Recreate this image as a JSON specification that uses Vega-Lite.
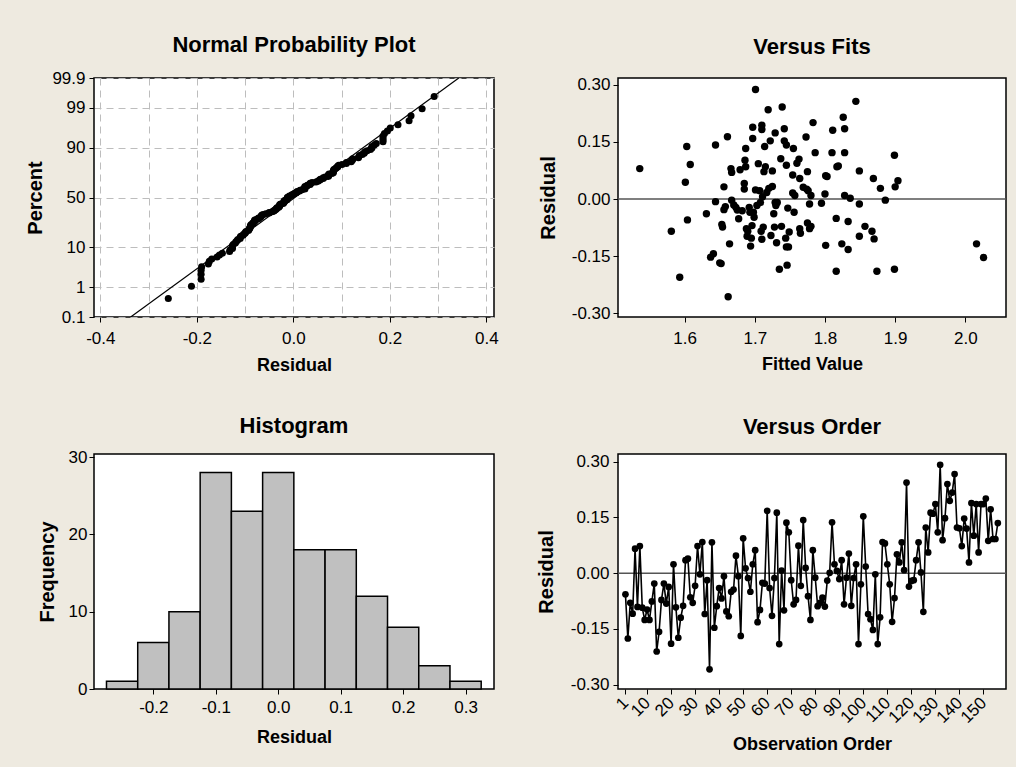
{
  "$schema": "https://vega.github.io/schema/vega-lite/v6.json",
  "background": "#EEEAE0",
  "padding": {"left": 24, "top": 33, "right": 8, "bottom": 13},
  "columns": 2,
  "spacing": {"row": 137, "column": 124},
  "bounds": "flush",
  "config": {
    "view": {"stroke": "#000000", "strokeWidth": 1.5, "fill": "#FFFFFF"},
    "axis": {"domain": false, "grid": false, "labelFont": "Liberation Sans", "labelFontSize": 17, "labelColor": "#000000", "labelFlush": false, "labelOverlap": false, "tickColor": "#000000", "tickSize": 5, "tickWidth": 1, "titleFont": "Liberation Sans", "titleFontWeight": "bold", "titleColor": "#000000", "titleFontSize": 18},
    "title": {"font": "Liberation Sans", "fontSize": 22, "fontWeight": "bold", "color": "#000000", "anchor": "middle", "baseline": "alphabetic", "frame": "group"}
  },
  "datasets": {
    "hist": [
      {"bin_start": -0.275, "bin_end": -0.225, "count": 1},
      {"bin_start": -0.225, "bin_end": -0.175, "count": 6},
      {"bin_start": -0.175, "bin_end": -0.125, "count": 10},
      {"bin_start": -0.125, "bin_end": -0.075, "count": 28},
      {"bin_start": -0.075, "bin_end": -0.025, "count": 23},
      {"bin_start": -0.025, "bin_end": 0.025, "count": 28},
      {"bin_start": 0.025, "bin_end": 0.075, "count": 18},
      {"bin_start": 0.075, "bin_end": 0.125, "count": 18},
      {"bin_start": 0.125, "bin_end": 0.175, "count": 12},
      {"bin_start": 0.175, "bin_end": 0.225, "count": 8},
      {"bin_start": 0.225, "bin_end": 0.275, "count": 3},
      {"bin_start": 0.275, "bin_end": 0.325, "count": 1}
    ],
    "nppline": [{"resid": -0.337, "z": -3.09}, {"resid": 0.343, "z": 3.09}],
    "npp": [
      {"resid": -0.259, "z": -2.613}, {"resid": -0.211, "z": -2.295}, {"resid": -0.191, "z": -2.114}, {"resid": -0.191, "z": -1.984},
      {"resid": -0.191, "z": -1.880}, {"resid": -0.190, "z": -1.794}, {"resid": -0.176, "z": -1.719}, {"resid": -0.174, "z": -1.652},
      {"resid": -0.169, "z": -1.592}, {"resid": -0.158, "z": -1.538}, {"resid": -0.153, "z": -1.488}, {"resid": -0.147, "z": -1.441},
      {"resid": -0.132, "z": -1.397}, {"resid": -0.131, "z": -1.356}, {"resid": -0.126, "z": -1.317}, {"resid": -0.126, "z": -1.279},
      {"resid": -0.126, "z": -1.244}, {"resid": -0.124, "z": -1.210}, {"resid": -0.120, "z": -1.177}, {"resid": -0.119, "z": -1.146},
      {"resid": -0.116, "z": -1.115}, {"resid": -0.115, "z": -1.086}, {"resid": -0.110, "z": -1.057}, {"resid": -0.110, "z": -1.030},
      {"resid": -0.109, "z": -1.003}, {"resid": -0.104, "z": -0.977}, {"resid": -0.103, "z": -0.951}, {"resid": -0.100, "z": -0.926},
      {"resid": -0.099, "z": -0.902}, {"resid": -0.098, "z": -0.878}, {"resid": -0.093, "z": -0.855}, {"resid": -0.092, "z": -0.832},
      {"resid": -0.091, "z": -0.810}, {"resid": -0.090, "z": -0.788}, {"resid": -0.089, "z": -0.766}, {"resid": -0.089, "z": -0.745},
      {"resid": -0.088, "z": -0.724}, {"resid": -0.088, "z": -0.703}, {"resid": -0.084, "z": -0.683}, {"resid": -0.084, "z": -0.663},
      {"resid": -0.082, "z": -0.643}, {"resid": -0.080, "z": -0.623}, {"resid": -0.080, "z": -0.604}, {"resid": -0.080, "z": -0.585},
      {"resid": -0.076, "z": -0.566}, {"resid": -0.072, "z": -0.547}, {"resid": -0.072, "z": -0.528}, {"resid": -0.068, "z": -0.510},
      {"resid": -0.067, "z": -0.492}, {"resid": -0.066, "z": -0.474}, {"resid": -0.065, "z": -0.456}, {"resid": -0.062, "z": -0.438},
      {"resid": -0.057, "z": -0.421}, {"resid": -0.050, "z": -0.403}, {"resid": -0.050, "z": -0.386}, {"resid": -0.044, "z": -0.369},
      {"resid": -0.040, "z": -0.352}, {"resid": -0.040, "z": -0.335}, {"resid": -0.037, "z": -0.318}, {"resid": -0.036, "z": -0.301},
      {"resid": -0.034, "z": -0.284}, {"resid": -0.034, "z": -0.267}, {"resid": -0.030, "z": -0.251}, {"resid": -0.030, "z": -0.234},
      {"resid": -0.028, "z": -0.218}, {"resid": -0.028, "z": -0.202}, {"resid": -0.028, "z": -0.185}, {"resid": -0.026, "z": -0.169},
      {"resid": -0.021, "z": -0.153}, {"resid": -0.020, "z": -0.137}, {"resid": -0.019, "z": -0.121}, {"resid": -0.019, "z": -0.105},
      {"resid": -0.019, "z": -0.088}, {"resid": -0.016, "z": -0.072}, {"resid": -0.013, "z": -0.056}, {"resid": -0.013, "z": -0.040},
      {"resid": -0.013, "z": -0.024}, {"resid": -0.012, "z": -0.008}, {"resid": -0.012, "z": 0.008}, {"resid": -0.008, "z": 0.024},
      {"resid": -0.008, "z": 0.040}, {"resid": -0.003, "z": 0.056}, {"resid": -0.003, "z": 0.072}, {"resid": 0.001, "z": 0.088},
      {"resid": 0.002, "z": 0.105}, {"resid": 0.006, "z": 0.121}, {"resid": 0.007, "z": 0.137}, {"resid": 0.008, "z": 0.153},
      {"resid": 0.013, "z": 0.169}, {"resid": 0.014, "z": 0.185}, {"resid": 0.018, "z": 0.202}, {"resid": 0.024, "z": 0.218},
      {"resid": 0.024, "z": 0.234}, {"resid": 0.024, "z": 0.251}, {"resid": 0.024, "z": 0.267}, {"resid": 0.024, "z": 0.284},
      {"resid": 0.029, "z": 0.301}, {"resid": 0.029, "z": 0.318}, {"resid": 0.035, "z": 0.335}, {"resid": 0.035, "z": 0.352},
      {"resid": 0.035, "z": 0.369}, {"resid": 0.039, "z": 0.386}, {"resid": 0.047, "z": 0.403}, {"resid": 0.051, "z": 0.421},
      {"resid": 0.053, "z": 0.438}, {"resid": 0.056, "z": 0.456}, {"resid": 0.056, "z": 0.474}, {"resid": 0.062, "z": 0.492},
      {"resid": 0.062, "z": 0.510}, {"resid": 0.066, "z": 0.528}, {"resid": 0.073, "z": 0.547}, {"resid": 0.073, "z": 0.566},
      {"resid": 0.073, "z": 0.585}, {"resid": 0.074, "z": 0.604}, {"resid": 0.080, "z": 0.623}, {"resid": 0.083, "z": 0.643},
      {"resid": 0.083, "z": 0.663}, {"resid": 0.083, "z": 0.683}, {"resid": 0.084, "z": 0.703}, {"resid": 0.084, "z": 0.724},
      {"resid": 0.087, "z": 0.745}, {"resid": 0.089, "z": 0.766}, {"resid": 0.092, "z": 0.788}, {"resid": 0.092, "z": 0.810},
      {"resid": 0.094, "z": 0.832}, {"resid": 0.101, "z": 0.855}, {"resid": 0.110, "z": 0.878}, {"resid": 0.110, "z": 0.902},
      {"resid": 0.120, "z": 0.926}, {"resid": 0.121, "z": 0.951}, {"resid": 0.123, "z": 0.977}, {"resid": 0.123, "z": 1.003},
      {"resid": 0.135, "z": 1.030}, {"resid": 0.136, "z": 1.057}, {"resid": 0.137, "z": 1.086}, {"resid": 0.143, "z": 1.115},
      {"resid": 0.147, "z": 1.146}, {"resid": 0.148, "z": 1.177}, {"resid": 0.153, "z": 1.210}, {"resid": 0.160, "z": 1.244},
      {"resid": 0.163, "z": 1.279}, {"resid": 0.163, "z": 1.317}, {"resid": 0.168, "z": 1.356}, {"resid": 0.172, "z": 1.397},
      {"resid": 0.186, "z": 1.441}, {"resid": 0.186, "z": 1.488}, {"resid": 0.186, "z": 1.538}, {"resid": 0.186, "z": 1.592},
      {"resid": 0.189, "z": 1.652}, {"resid": 0.195, "z": 1.719}, {"resid": 0.201, "z": 1.794}, {"resid": 0.217, "z": 1.880},
      {"resid": 0.240, "z": 1.984}, {"resid": 0.244, "z": 2.114}, {"resid": 0.267, "z": 2.295}, {"resid": 0.292, "z": 2.613}
    ],
    "fits": [
      {"fit": 1.536, "resid": 0.080}, {"fit": 1.581, "resid": -0.085}, {"fit": 1.593, "resid": -0.206}, {"fit": 1.601, "resid": 0.044},
      {"fit": 1.603, "resid": 0.138}, {"fit": 1.604, "resid": -0.055}, {"fit": 1.608, "resid": 0.091}, {"fit": 1.631, "resid": -0.039},
      {"fit": 1.637, "resid": -0.153}, {"fit": 1.641, "resid": -0.144}, {"fit": 1.644, "resid": 0.142}, {"fit": 1.644, "resid": -0.007},
      {"fit": 1.650, "resid": -0.168}, {"fit": 1.653, "resid": -0.067}, {"fit": 1.652, "resid": -0.170}, {"fit": 1.654, "resid": -0.074},
      {"fit": 1.656, "resid": -0.028}, {"fit": 1.656, "resid": 0.032}, {"fit": 1.658, "resid": -0.020}, {"fit": 1.661, "resid": 0.164},
      {"fit": 1.662, "resid": -0.257}, {"fit": 1.664, "resid": -0.118}, {"fit": 1.666, "resid": 0.080}, {"fit": 1.667, "resid": 0.070},
      {"fit": 1.667, "resid": -0.003}, {"fit": 1.670, "resid": -0.016}, {"fit": 1.673, "resid": -0.022}, {"fit": 1.675, "resid": -0.029},
      {"fit": 1.677, "resid": -0.052}, {"fit": 1.679, "resid": 0.077}, {"fit": 1.682, "resid": -0.031}, {"fit": 1.685, "resid": 0.041},
      {"fit": 1.685, "resid": 0.026}, {"fit": 1.686, "resid": 0.102}, {"fit": 1.687, "resid": 0.133}, {"fit": 1.687, "resid": 0.085},
      {"fit": 1.688, "resid": -0.078}, {"fit": 1.689, "resid": -0.098}, {"fit": 1.690, "resid": -0.085}, {"fit": 1.692, "resid": -0.022},
      {"fit": 1.693, "resid": -0.035}, {"fit": 1.694, "resid": -0.124}, {"fit": 1.695, "resid": -0.103}, {"fit": 1.696, "resid": -0.070},
      {"fit": 1.697, "resid": 0.189}, {"fit": 1.697, "resid": 0.159}, {"fit": 1.698, "resid": -0.035}, {"fit": 1.699, "resid": -0.048},
      {"fit": 1.701, "resid": 0.024}, {"fit": 1.701, "resid": 0.288}, {"fit": 1.703, "resid": -0.017}, {"fit": 1.705, "resid": 0.093},
      {"fit": 1.707, "resid": 0.022}, {"fit": 1.708, "resid": -0.009}, {"fit": 1.709, "resid": -0.085}, {"fit": 1.710, "resid": 0.194},
      {"fit": 1.710, "resid": -0.106}, {"fit": 1.710, "resid": 0.183}, {"fit": 1.711, "resid": 0.006}, {"fit": 1.712, "resid": -0.074},
      {"fit": 1.713, "resid": 0.072}, {"fit": 1.714, "resid": 0.138}, {"fit": 1.715, "resid": 0.085}, {"fit": 1.717, "resid": 0.017},
      {"fit": 1.719, "resid": 0.235}, {"fit": 1.720, "resid": 0.028}, {"fit": 1.722, "resid": 0.153}, {"fit": 1.723, "resid": -0.096},
      {"fit": 1.725, "resid": 0.074}, {"fit": 1.725, "resid": 0.033}, {"fit": 1.727, "resid": -0.039}, {"fit": 1.728, "resid": -0.074},
      {"fit": 1.729, "resid": 0.174}, {"fit": 1.729, "resid": -0.009}, {"fit": 1.730, "resid": -0.017}, {"fit": 1.731, "resid": -0.115},
      {"fit": 1.732, "resid": -0.009}, {"fit": 1.735, "resid": -0.185}, {"fit": 1.737, "resid": 0.106}, {"fit": 1.738, "resid": -0.072},
      {"fit": 1.739, "resid": 0.242}, {"fit": 1.742, "resid": 0.185}, {"fit": 1.742, "resid": 0.153}, {"fit": 1.744, "resid": -0.103},
      {"fit": 1.745, "resid": 0.142}, {"fit": 1.745, "resid": -0.126}, {"fit": 1.745, "resid": 0.089}, {"fit": 1.746, "resid": -0.174},
      {"fit": 1.747, "resid": -0.024}, {"fit": 1.748, "resid": -0.126}, {"fit": 1.749, "resid": -0.087}, {"fit": 1.754, "resid": 0.063},
      {"fit": 1.754, "resid": 0.016}, {"fit": 1.755, "resid": 0.133}, {"fit": 1.756, "resid": -0.035}, {"fit": 1.757, "resid": 0.009},
      {"fit": 1.760, "resid": 0.094}, {"fit": 1.763, "resid": 0.105}, {"fit": 1.764, "resid": 0.054}, {"fit": 1.764, "resid": -0.078},
      {"fit": 1.765, "resid": -0.090}, {"fit": 1.769, "resid": 0.031}, {"fit": 1.773, "resid": 0.163}, {"fit": 1.774, "resid": 0.026},
      {"fit": 1.775, "resid": 0.072}, {"fit": 1.775, "resid": -0.063}, {"fit": 1.776, "resid": 0.022}, {"fit": 1.778, "resid": -0.013},
      {"fit": 1.778, "resid": -0.078}, {"fit": 1.780, "resid": -0.072}, {"fit": 1.780, "resid": 0.009}, {"fit": 1.783, "resid": 0.201},
      {"fit": 1.786, "resid": 0.122}, {"fit": 1.795, "resid": -0.011}, {"fit": 1.800, "resid": 0.013}, {"fit": 1.801, "resid": -0.122},
      {"fit": 1.801, "resid": 0.061}, {"fit": 1.803, "resid": 0.059}, {"fit": 1.810, "resid": 0.122}, {"fit": 1.811, "resid": 0.181},
      {"fit": 1.816, "resid": -0.051}, {"fit": 1.816, "resid": -0.190}, {"fit": 1.817, "resid": 0.085}, {"fit": 1.819, "resid": 0.087},
      {"fit": 1.824, "resid": -0.118}, {"fit": 1.826, "resid": 0.215}, {"fit": 1.828, "resid": 0.185}, {"fit": 1.828, "resid": 0.122},
      {"fit": 1.828, "resid": 0.009}, {"fit": 1.833, "resid": -0.133}, {"fit": 1.833, "resid": -0.059}, {"fit": 1.836, "resid": 0.002},
      {"fit": 1.844, "resid": 0.257}, {"fit": 1.849, "resid": 0.074}, {"fit": 1.849, "resid": -0.013}, {"fit": 1.849, "resid": -0.098},
      {"fit": 1.857, "resid": -0.072}, {"fit": 1.867, "resid": -0.085}, {"fit": 1.869, "resid": 0.054}, {"fit": 1.870, "resid": -0.105},
      {"fit": 1.874, "resid": -0.190}, {"fit": 1.879, "resid": 0.028}, {"fit": 1.886, "resid": -0.003}, {"fit": 1.899, "resid": 0.115},
      {"fit": 1.899, "resid": -0.185}, {"fit": 1.900, "resid": 0.032}, {"fit": 1.904, "resid": 0.048}, {"fit": 2.016, "resid": -0.118},
      {"fit": 2.026, "resid": -0.154}
    ],
    "order": [
      {"obs": 1, "resid": -0.057}, {"obs": 2, "resid": -0.176}, {"obs": 3, "resid": -0.080}, {"obs": 4, "resid": -0.109},
      {"obs": 5, "resid": 0.066}, {"obs": 6, "resid": -0.091}, {"obs": 7, "resid": 0.073}, {"obs": 8, "resid": -0.093},
      {"obs": 9, "resid": -0.126}, {"obs": 10, "resid": -0.098}, {"obs": 11, "resid": -0.126}, {"obs": 12, "resid": -0.076},
      {"obs": 13, "resid": -0.028}, {"obs": 14, "resid": -0.211}, {"obs": 15, "resid": -0.158}, {"obs": 16, "resid": -0.072},
      {"obs": 17, "resid": -0.028}, {"obs": 18, "resid": -0.082}, {"obs": 19, "resid": -0.037}, {"obs": 20, "resid": -0.190},
      {"obs": 21, "resid": 0.024}, {"obs": 22, "resid": -0.092}, {"obs": 23, "resid": -0.174}, {"obs": 24, "resid": -0.120},
      {"obs": 25, "resid": -0.088}, {"obs": 26, "resid": 0.035}, {"obs": 27, "resid": 0.039}, {"obs": 28, "resid": -0.065},
      {"obs": 29, "resid": -0.080}, {"obs": 30, "resid": -0.034}, {"obs": 31, "resid": 0.073}, {"obs": 32, "resid": -0.003},
      {"obs": 33, "resid": 0.084}, {"obs": 34, "resid": -0.110}, {"obs": 35, "resid": -0.019}, {"obs": 36, "resid": -0.259},
      {"obs": 37, "resid": 0.083}, {"obs": 38, "resid": -0.147}, {"obs": 39, "resid": -0.089}, {"obs": 40, "resid": -0.040},
      {"obs": 41, "resid": -0.068}, {"obs": 42, "resid": -0.008}, {"obs": 43, "resid": -0.103}, {"obs": 44, "resid": -0.116},
      {"obs": 45, "resid": -0.050}, {"obs": 46, "resid": -0.044}, {"obs": 47, "resid": 0.047}, {"obs": 48, "resid": -0.008},
      {"obs": 49, "resid": -0.169}, {"obs": 50, "resid": 0.094}, {"obs": 51, "resid": 0.013}, {"obs": 52, "resid": -0.013},
      {"obs": 53, "resid": -0.050}, {"obs": 54, "resid": 0.024}, {"obs": 55, "resid": 0.062}, {"obs": 56, "resid": -0.132},
      {"obs": 57, "resid": -0.099}, {"obs": 58, "resid": -0.026}, {"obs": 59, "resid": -0.028}, {"obs": 60, "resid": 0.168},
      {"obs": 61, "resid": -0.040}, {"obs": 62, "resid": -0.115}, {"obs": 63, "resid": -0.013}, {"obs": 64, "resid": 0.163},
      {"obs": 65, "resid": -0.191}, {"obs": 66, "resid": 0.007}, {"obs": 67, "resid": -0.100}, {"obs": 68, "resid": 0.136},
      {"obs": 69, "resid": 0.110}, {"obs": 70, "resid": -0.019}, {"obs": 71, "resid": -0.084}, {"obs": 72, "resid": -0.072},
      {"obs": 73, "resid": 0.074}, {"obs": 74, "resid": -0.034}, {"obs": 75, "resid": 0.143}, {"obs": 76, "resid": 0.014},
      {"obs": 77, "resid": -0.062}, {"obs": 78, "resid": -0.126}, {"obs": 79, "resid": 0.062}, {"obs": 80, "resid": -0.012},
      {"obs": 81, "resid": -0.089}, {"obs": 82, "resid": -0.080}, {"obs": 83, "resid": -0.066}, {"obs": 84, "resid": -0.090},
      {"obs": 85, "resid": -0.020}, {"obs": 86, "resid": 0.001}, {"obs": 87, "resid": 0.137}, {"obs": 88, "resid": 0.024},
      {"obs": 89, "resid": 0.006}, {"obs": 90, "resid": -0.016}, {"obs": 91, "resid": 0.035}, {"obs": 92, "resid": -0.084},
      {"obs": 93, "resid": -0.012}, {"obs": 94, "resid": 0.053}, {"obs": 95, "resid": -0.088}, {"obs": 96, "resid": -0.013},
      {"obs": 97, "resid": 0.024}, {"obs": 98, "resid": -0.191}, {"obs": 99, "resid": -0.030}, {"obs": 100, "resid": 0.153},
      {"obs": 101, "resid": 0.018}, {"obs": 102, "resid": -0.110}, {"obs": 103, "resid": -0.124}, {"obs": 104, "resid": -0.153},
      {"obs": 105, "resid": -0.003}, {"obs": 106, "resid": -0.191}, {"obs": 107, "resid": -0.119}, {"obs": 108, "resid": 0.084},
      {"obs": 109, "resid": 0.080}, {"obs": 110, "resid": 0.024}, {"obs": 111, "resid": -0.030}, {"obs": 112, "resid": -0.131},
      {"obs": 113, "resid": -0.067}, {"obs": 114, "resid": 0.051}, {"obs": 115, "resid": 0.029}, {"obs": 116, "resid": 0.083},
      {"obs": 117, "resid": 0.008}, {"obs": 118, "resid": 0.244}, {"obs": 119, "resid": -0.036}, {"obs": 120, "resid": -0.021},
      {"obs": 121, "resid": -0.019}, {"obs": 122, "resid": 0.035}, {"obs": 123, "resid": 0.083}, {"obs": 124, "resid": 0.002},
      {"obs": 125, "resid": -0.104}, {"obs": 126, "resid": 0.123}, {"obs": 127, "resid": 0.056}, {"obs": 128, "resid": 0.163},
      {"obs": 129, "resid": 0.160}, {"obs": 130, "resid": 0.186}, {"obs": 131, "resid": 0.110}, {"obs": 132, "resid": 0.292},
      {"obs": 133, "resid": 0.089}, {"obs": 134, "resid": 0.148}, {"obs": 135, "resid": 0.240}, {"obs": 136, "resid": 0.195},
      {"obs": 137, "resid": 0.217}, {"obs": 138, "resid": 0.267}, {"obs": 139, "resid": 0.123}, {"obs": 140, "resid": 0.121},
      {"obs": 141, "resid": 0.073}, {"obs": 142, "resid": 0.147}, {"obs": 143, "resid": 0.120}, {"obs": 144, "resid": 0.029},
      {"obs": 145, "resid": 0.189}, {"obs": 146, "resid": 0.101}, {"obs": 147, "resid": 0.186}, {"obs": 148, "resid": 0.056},
      {"obs": 149, "resid": 0.186}, {"obs": 150, "resid": 0.186}, {"obs": 151, "resid": 0.201}, {"obs": 152, "resid": 0.087},
      {"obs": 153, "resid": 0.172}, {"obs": 154, "resid": 0.092}, {"obs": 155, "resid": 0.092}, {"obs": 156, "resid": 0.135}
    ]
  },
  "concat": [
    {
      "width": 400, "height": 239,
      "title": {"text": "Normal Probability Plot", "offset": 12, "frame": "group"},
      "layer": [
        {
          "data": {"name": "nppline"},
          "mark": {"type": "line", "color": "#000000", "strokeWidth": 1.2, "clip": true},
          "encoding": {
            "x": {"field": "resid", "type": "quantitative", "title": "Residual",
              "scale": {"domain": [-0.413, 0.416], "nice": false, "zero": false},
              "axis": {"values": [-0.4, -0.3, -0.2, -0.1, 0, 0.1, 0.2, 0.3, 0.4], "tickCount": 100, "labelOverlap": false,
                "labelExpr": "abs(round(datum.value*10)) % 2 == 0 ? replace(format(datum.value, '.1f'), '\u2212', '-') : ''",
                "tickOpacity": {"condition": {"test": "abs(round(datum.value*10)) % 2 == 0", "value": 1}, "value": 0},
                "grid": true, "gridColor": "#BDBDBD", "gridDash": [7, 5], "gridWidth": 1,
                "labelPadding": 8, "titleY": 53, "titleBaseline": "alphabetic"}},
            "y": {"field": "z", "type": "quantitative", "title": "Percent",
              "scale": {"domain": [-3.09, 3.09], "nice": false, "zero": false},
              "axis": {"values": [-3.09, -2.326, -1.2816, 0, 1.2816, 2.326, 3.09], "tickCount": 100, "labelOverlap": false,
                "labelExpr": "datum.value < -3 ? '0.1' : datum.value < -2 ? '1' : datum.value < -1 ? '10' : datum.value < 1 ? '50' : datum.value < 2 ? '90' : datum.value < 3 ? '99' : '99.9'",
                "grid": true, "gridColor": "#BDBDBD", "gridDash": [7, 5], "gridWidth": 1,
                "labelPadding": 4, "titleX": -53, "titleBaseline": "alphabetic", "titleFontSize": 20}}
          }
        },
        {
          "data": {"name": "npp"},
          "mark": {"type": "circle", "size": 50, "color": "#000000", "opacity": 1},
          "encoding": {
            "x": {"field": "resid", "type": "quantitative", "title": "Residual"},
            "y": {"field": "z", "type": "quantitative", "title": "Percent"}
          }
        }
      ]
    },
    {
      "width": 388, "height": 239,
      "title": {"text": "Versus Fits", "offset": 17, "frame": "group"},
      "layer": [
        {
          "data": {"values": [{"ref": 0}]},
          "mark": {"type": "rule", "color": "#555555", "strokeWidth": 1.5},
          "encoding": {
            "y": {"field": "ref", "type": "quantitative", "title": "Residual",
              "scale": {"domain": [-0.3105, 0.3184], "nice": false, "zero": false},
              "axis": {"values": [-0.3, -0.15, 0, 0.15, 0.3], "tickCount": 100, "labelOverlap": false,
                "labelExpr": "replace(format(datum.value, '.2f'), '\u2212', '-')",
                "labelPadding": 3, "titleX": -64, "titleBaseline": "alphabetic", "titleFontSize": 20}}
          }
        },
        {
          "data": {"name": "fits"},
          "mark": {"type": "circle", "size": 55, "color": "#000000", "opacity": 1},
          "encoding": {
            "x": {"field": "fit", "type": "quantitative", "title": "Fitted Value",
              "scale": {"domain": [1.505, 2.058], "nice": false, "zero": false},
              "axis": {"values": [1.6, 1.7, 1.8, 1.9, 2.0], "tickCount": 100, "format": ".1f", "labelOverlap": false,
                "labelPadding": 8, "titleY": 52, "titleBaseline": "alphabetic"}},
            "y": {"field": "resid", "type": "quantitative", "title": "Residual"}
          }
        }
      ]
    },
    {
      "width": 400, "height": 235,
      "title": {"text": "Histogram", "offset": 10, "frame": "group"},
      "data": {"name": "hist"},
      "mark": {"type": "bar", "fill": "#C0C0C0", "stroke": "#000000", "strokeWidth": 1.5},
      "encoding": {
        "x": {"field": "bin_start", "type": "quantitative", "title": "Residual",
          "scale": {"domain": [-0.295, 0.3455], "nice": false, "zero": false},
          "axis": {"values": [-0.2, -0.1, 0, 0.1, 0.2, 0.3], "tickCount": 100, "labelOverlap": false,
            "labelExpr": "replace(format(datum.value, '.1f'), '\u2212', '-')",
            "labelPadding": 5, "titleY": 53, "titleBaseline": "alphabetic"}},
        "x2": {"field": "bin_end"},
        "y": {"field": "count", "type": "quantitative", "title": "Frequency",
          "scale": {"domain": [0, 30.4], "nice": false},
          "axis": {"values": [0, 10, 20, 30], "format": "d", "tickCount": 100, "labelOverlap": false, "labelPadding": 2, "titleX": -41, "titleBaseline": "alphabetic", "titleFontSize": 20}},
        "y2": {"datum": 0}
      }
    },
    {
      "width": 388, "height": 235,
      "title": {"text": "Versus Order", "offset": 14, "frame": "group"},
      "layer": [
        {
          "data": {"values": [{"ref": 0}]},
          "mark": {"type": "rule", "color": "#555555", "strokeWidth": 1.5},
          "encoding": {
            "y": {"field": "ref", "type": "quantitative", "title": "Residual",
              "scale": {"domain": [-0.312, 0.321], "nice": false, "zero": false},
              "axis": {"values": [-0.3, -0.15, 0, 0.15, 0.3], "tickCount": 100, "labelOverlap": false,
                "labelExpr": "replace(format(datum.value, '.2f'), '\u2212', '-')",
                "labelPadding": 4, "titleX": -66, "titleBaseline": "alphabetic", "titleFontSize": 20}}
          }
        },
        {
          "data": {"name": "order"},
          "mark": {"type": "line", "color": "#000000", "strokeWidth": 1.6},
          "encoding": {
            "x": {"field": "obs", "type": "quantitative", "title": "Observation Order",
              "scale": {"domain": [-2.1, 159.4], "nice": false, "zero": false},
              "axis": {"values": [1, 10, 20, 30, 40, 50, 60, 70, 80, 90, 100, 110, 120, 130, 140, 150], "tickCount": 100, "labelOverlap": false,
                "labelAngle": -45, "labelAlign": "right", "labelBaseline": "middle",
                "labelPadding": 6, "titleY": 60, "titleBaseline": "alphabetic"}},
            "y": {"field": "resid", "type": "quantitative", "title": "Residual"}
          }
        },
        {
          "data": {"name": "order"},
          "mark": {"type": "circle", "size": 45, "color": "#000000", "opacity": 1},
          "encoding": {
            "x": {"field": "obs", "type": "quantitative", "title": "Observation Order"},
            "y": {"field": "resid", "type": "quantitative", "title": "Residual"}
          }
        }
      ]
    }
  ]
}
